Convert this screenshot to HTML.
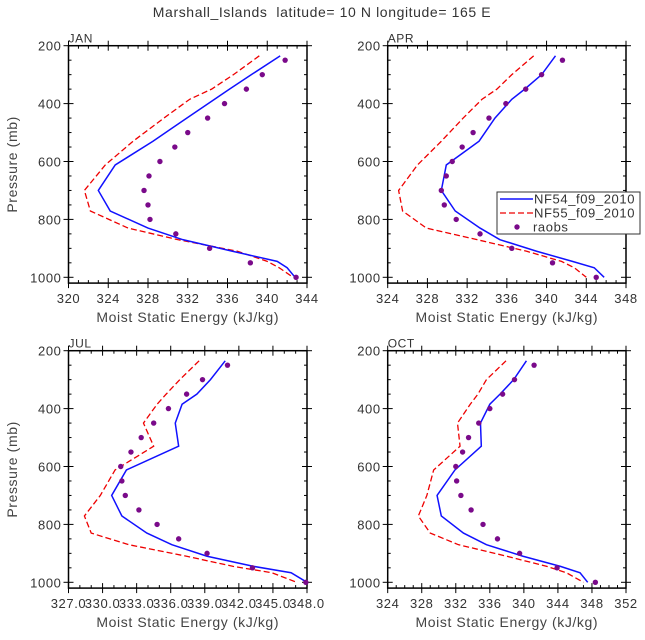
<!DOCTYPE html>
<html><head><meta charset="utf-8"><style>
html,body{margin:0;padding:0;background:#fff;}
svg{display:block;font-family:"Liberation Sans",sans-serif;}
text{letter-spacing:0.6px;}
</style></head><body>
<svg id="chart" width="645" height="640" viewBox="0 0 645 640">
<text x="322" y="17" text-anchor="middle" font-size="14" fill="#333" style="white-space:pre">Marshall_Islands  latitude= 10 N longitude= 165 E</text>
</svg>
<script>
const levels = [235,300,350,385,450,530,612,700,771,830,870,910,945,967,1000];
const obsLevels = [250,300,350,400,450,500,550,600,650,700,750,800,850,900,950,1000];
const panelNames = ["JAN","APR","JUL","OCT"];
const xMins = [320,324,327,324];
const xMaxs = [344,348,348,352];
const xSteps = [4,4,3,4];
const janBlue = [341.3,338.4,336.2,334.7,331.9,328.5,324.7,323.0,324.2,328.0,331.5,336.5,341.0,342.0,342.8];
const janRed  = [339.2,336.6,334.4,332.2,329.6,326.5,323.7,321.6,322.2,326.0,331.0,337.0,340.0,341.2,342.6];
const janObs  = [341.8,339.5,337.9,335.7,334.0,332.0,330.7,329.2,328.1,327.6,328.0,328.2,330.8,334.2,338.3,342.9];
const aprBlue = [340.9,339.5,337.8,336.5,334.8,333.2,329.9,329.4,330.8,333.3,335.3,339.0,342.6,344.8,345.8];
const aprRed  = [338.7,336.5,335.0,333.5,331.6,329.4,327.0,325.1,325.5,327.9,333.0,338.0,341.5,342.8,344.0];
const aprObs  = [341.6,339.5,337.9,335.9,334.2,332.6,331.5,330.5,329.9,329.4,329.7,330.9,333.3,336.5,340.6,345.0];
const julBlue = [340.8,339.5,338.3,337.0,336.4,336.7,332.1,330.8,331.7,333.9,336.1,339.2,343.3,346.6,348.0];
const julRed  = [338.5,336.8,335.6,334.8,333.6,334.5,331.1,329.8,328.4,329.0,332.3,337.4,341.5,344.9,347.1];
const julObs  = [341.0,338.8,337.4,335.8,334.5,333.4,332.5,331.6,331.7,332.0,333.2,334.8,336.7,339.2,343.2,347.9];
const octBlue = [340.3,338.8,337.2,336.0,334.9,335.0,331.9,329.8,330.3,332.9,335.6,339.9,344.3,346.6,347.5];
const octRed  = [337.9,335.6,334.6,333.7,332.2,332.5,329.4,328.6,327.6,329.0,332.3,338.0,342.7,345.0,347.0];
const octObs  = [341.2,338.9,337.5,336.0,334.7,333.5,332.8,332.0,332.1,332.6,333.8,335.2,336.9,339.5,343.9,348.4];
const blueSeries = [janBlue,aprBlue,julBlue,octBlue];
const redSeries = [janRed,aprRed,julRed,octRed];
const obsSeries = [janObs,aprObs,julObs,octObs];
const yTicks = [200,400,600,800,1000];

const NS="http://www.w3.org/2000/svg";
const svg=document.getElementById('chart');
function mk(tag,attrs,parent){const e=document.createElementNS(NS,tag);for(const k in attrs)e.setAttribute(k,attrs[k]);(parent||svg).appendChild(e);return e;}
const boxes=[[68.5,307,45.7,277.3],[387.7,626,45.7,277.3],[68.5,307,350.7,582.3],[387.7,626,350.7,582.3]];
const pMin=200,pMax=1020;
boxes.forEach((b,i)=>{
  const [L,R,T,Y1000]=b;
  const pxPerMb=(Y1000-T)/800;
  const B=T+(pMax-pMin)*pxPerMb;
  const xs=v=>L+(v-xMins[i])/(xMaxs[i]-xMins[i])*(R-L);
  const ys=p=>T+(p-pMin)*pxPerMb;
  const g=mk('g',{});
  
  
  const t=mk('text',{x:L,y:T-3,'font-size':12,fill:'#333'},g);t.textContent=panelNames[i];
  
  
  const fr=mk('rect',{x:L,y:T,width:R-L,height:B-T,fill:'none',stroke:'#000','stroke-width':1.5},g);
  
  
  for(let v=xMins[i];v<=xMaxs[i]+1e-6;v+=1){
    const major=Math.abs((v-xMins[i])%xSteps[i])<1e-6;
    const x=xs(v);
    const len=major?5:3;
    mk('line',{x1:x,x2:x,y1:B-len,y2:B+(major?5:0),stroke:'#000','stroke-width':1},g);
    mk('line',{x1:x,x2:x,y1:T+len,y2:T-(major?5:0),stroke:'#000','stroke-width':1},g);
    if(major){
      const lbl=mk('text',{x:x,y:B+20,'text-anchor':'middle','font-size':13,fill:'#333'},g);
      if(i==2) lbl.setAttribute('letter-spacing','1.2');
      lbl.textContent=i==2?v.toFixed(1):String(v);
      
      
    }
  }
  for(let p=200;p<=1000;p+=50){
    const major=p%200===0;const y=ys(p);const len=major?5:3;
    mk('line',{x1:L-(major?5:0),x2:L+len,y1:y,y2:y,stroke:'#000','stroke-width':1},g);
    mk('line',{x1:R+(major?5:0),x2:R-len,y1:y,y2:y,stroke:'#000','stroke-width':1},g);
  }
  yTicks.forEach(p=>{
    const lbl=mk('text',{x:L-7,y:ys(p)+5,'text-anchor':'end','font-size':13,fill:'#333'},g);
    lbl.textContent=p;
    
    
  });
  const xt=mk('text',{x:(L+R)/2,y:B+39,'text-anchor':'middle','font-size':14,fill:'#444'},g);
  xt.textContent='Moist Static Energy (kJ/kg)';
  
  
  if(i%2===0){
    const yt=mk('text',{x:0,y:0,'text-anchor':'middle','font-size':14,fill:'#444',transform:`translate(17,${(T+B)/2}) rotate(-90)`},g);
    yt.textContent='Pressure (mb)';
    
    
  }
  const red=mk('polyline',{points:levels.map((p,k)=>xs(redSeries[i][k])+','+ys(p)).join(' '),fill:'none',stroke:'#e00','stroke-width':1.3,'stroke-dasharray':'6,3'},g);
  
  
  const blue=mk('polyline',{points:levels.map((p,k)=>xs(blueSeries[i][k])+','+ys(p)).join(' '),fill:'none',stroke:'#11f','stroke-width':1.5},g);
  
  
  obsLevels.forEach((p,k)=>{
    const c=mk('circle',{cx:xs(obsSeries[i][k]),cy:ys(p),r:2.7,fill:'#7a0a8a'},g);
    
    
  });
});
const lg=mk('g',{});


mk('rect',{x:497,y:192,width:143,height:42,fill:'#fff',stroke:'#333','stroke-width':1},lg);
mk('line',{x1:500,x2:533,y1:199,y2:199,stroke:'#11f','stroke-width':1.5},lg);
mk('line',{x1:500,x2:533,y1:213,y2:213,stroke:'#e00','stroke-width':1.3,'stroke-dasharray':'6,3'},lg);
mk('circle',{cx:517,cy:227,r:2.7,fill:'#7a0a8a'},lg);
[['NF54_f09_2010',203.5],['NF55_f09_2010',217.5],['raobs',231.5]].forEach(([s,y])=>{
  const t=mk('text',{x:s==='raobs'?533:534,y:y,'font-size':13,fill:'#333'},lg);
  t.textContent=s;
  
  
});
</script>
</body></html>
